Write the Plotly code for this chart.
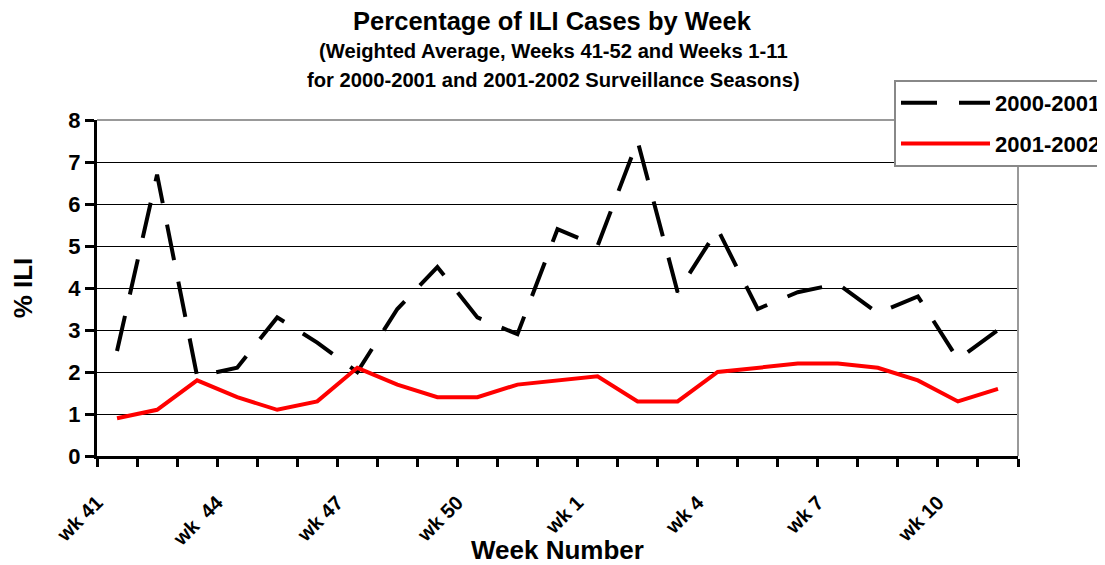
import plotly.graph_objects as go

weeks = ["wk 41", "wk 42", "wk 43", "wk 44", "wk 45", "wk 46", "wk 47", "wk 48",
         "wk 49", "wk 50", "wk 51", "wk 52", "wk 1", "wk 2", "wk 3", "wk 4",
         "wk 5", "wk 6", "wk 7", "wk 8", "wk 9", "wk 10", "wk 11"]
tick_labels = ["wk 41", "", "", "wk  44", "", "", "wk 47", "", "", "wk 50", "", "",
               "wk 1", "", "", "wk 4", "", "", "wk 7", "", "", "wk 10", ""]
season_2000_2001 = [2.5, 6.7, 1.9, 2.1, 3.3, 2.7, 2.0, 3.5, 4.5, 3.3, 2.9, 5.4,
                    5.0, 7.5, 3.9, 5.4, 3.5, 3.9, 4.1, 3.4, 3.8, 2.3, 3.0]
season_2001_2002 = [0.9, 1.1, 1.8, 1.4, 1.1, 1.3, 2.1, 1.7, 1.4, 1.4, 1.7, 1.8,
                    1.9, 1.3, 1.3, 2.0, 2.1, 2.2, 2.2, 2.1, 1.8, 1.3, 1.6]
y_ticks = [0, 1, 2, 3, 4, 5, 6, 7, 8]

FONT = "Liberation Sans, Arial, sans-serif"
OFF = 8  # page body margin of the browser
W, H = 1105 - OFF, 565 - OFF
ML, MT = 97 - OFF, 120 - OFF
PW, PH = 921, 336
MR, MB = W - ML - PW, H - MT - PH


def py(screen_y):
    """screen pixel row -> paper y"""
    return (MT + PH - (screen_y - OFF)) / PH


def px(screen_x):
    return (screen_x - OFF - ML) / PW


fig = go.Figure()
fig.add_trace(go.Scatter(
    x=weeks, y=season_2000_2001, mode="lines", name="2000-2001",
    line=dict(color="black", width=4, dash="36px,22px"),
    legendgroup="a"))
fig.add_trace(go.Scatter(
    x=weeks, y=season_2001_2002, mode="lines", name="2001-2002",
    line=dict(color="#ff0000", width=4),
    legendgroup="b"))

fig.update_layout(
    width=W, height=H,
    margin=dict(l=ML, r=MR, t=MT, b=MB, autoexpand=False),
    paper_bgcolor="white", plot_bgcolor="white",
    font=dict(family=FONT, color="black"),
    title=dict(text="Percentage of ILI Cases by Week", x=(552 - OFF) / W, xref="container",
               xanchor="center", y=1 - 13.5 / H, yref="container", yanchor="middle",
               font=dict(size=25.5, weight="bold", family=FONT)),
    showlegend=True,
    legend=dict(x=px(894), y=py(80), xanchor="left", yanchor="top",
                bgcolor="white", bordercolor="#888888", borderwidth=2,
                font=dict(size=22, weight="bold", family=FONT),
                tracegroupgap=9, traceorder="grouped", itemwidth=89),
)

fig.add_annotation(text="(Weighted Average, Weeks 41-52 and Weeks 1-11",
                   xref="paper", yref="paper", x=px(553), y=py(51),
                   showarrow=False, xanchor="center", yanchor="middle",
                   font=dict(size=20.2, weight="bold", family=FONT))
fig.add_annotation(text="for 2000-2001 and 2001-2002 Surveillance Seasons)",
                   xref="paper", yref="paper", x=px(553), y=py(80),
                   showarrow=False, xanchor="center", yanchor="middle",
                   font=dict(size=20.2, weight="bold", family=FONT))
# x-axis title
fig.add_annotation(text="Week Number",
                   xref="paper", yref="paper", x=0.5, y=py(550),
                   showarrow=False, xanchor="center", yanchor="middle",
                   font=dict(size=26, weight="bold", family=FONT))

fig.update_xaxes(
    type="category", categoryorder="array", categoryarray=weeks,
    tickvals=weeks, ticktext=tick_labels, tickson="boundaries",
    ticks="outside", ticklen=8, tickwidth=3, tickcolor="black",
    showline=True, linecolor="black", linewidth=3, showgrid=False,
    tickangle=-45, tickfont=dict(size=20, weight="bold", family=FONT),
    ticklabelshift=-20, ticklabelstandoff=24,
    range=[-0.5, len(weeks) - 0.5], automargin=False,
)
fig.update_yaxes(
    range=[0, 8], tickvals=y_ticks, ticks="outside", ticklen=9, tickwidth=3,
    tickcolor="black", showline=True, linecolor="black", linewidth=3,
    showgrid=True, gridcolor="black", gridwidth=1, zeroline=False,
    tickfont=dict(size=22, weight="bold", family=FONT),
    title=dict(text="% ILI", font=dict(size=26, weight="bold", family=FONT), standoff=29),
    automargin=False,
)

# plot-area frame (top and right, grey)
fig.add_shape(type="line", xref="paper", yref="paper", x0=0, x1=1, y0=1, y1=1,
              line=dict(color="#999999", width=2), layer="above")
fig.add_shape(type="line", xref="paper", yref="paper", x0=1, x1=1, y0=0, y1=1,
              line=dict(color="#999999", width=2), layer="above")

fig.write_html("out.html")
